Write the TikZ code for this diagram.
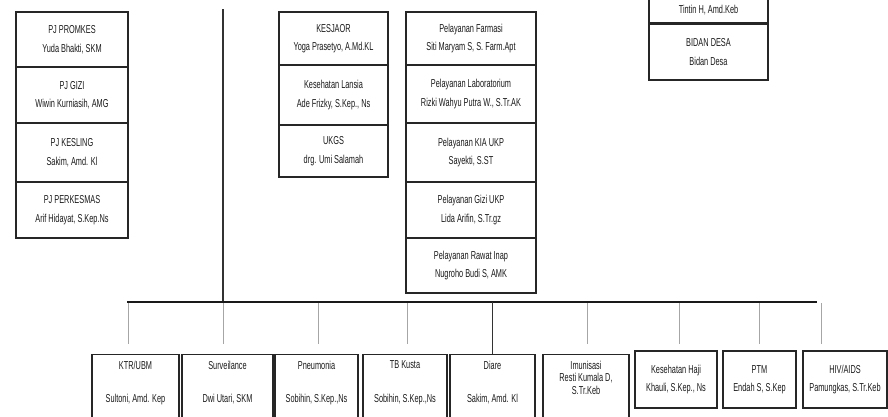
\documentclass[tikz,border=0pt]{standalone}
\usepackage{fontspec}
\setmainfont{Liberation Sans}[FakeStretch=0.64]

\begin{document}
\begin{tikzpicture}[x=1pt, y=-1pt,
    box/.style={draw=black!85, line width=1.1pt, inner sep=0pt, align=center, text=black!90,
                font=\fontsize{11.5}{18.5}\selectfont},
    lowbox/.style={box, anchor=north, inner ysep=6.5pt},
    trunk/.style={line width=1.4pt, black!80},
    bus/.style={line width=1.8pt, black!90},
    stub/.style={line width=0.9pt, black!35}]
  \useasboundingbox (0,0) rectangle (888,416);
  \clip (0,0) rectangle (888,416);
  % ---------------- left column: PJ ----------------
  \node[box, minimum width=112, minimum height=55] (promkes)   at (72,39.5) {PJ PROMKES\\Yuda Bhakti, SKM};
  \node[box, minimum width=112, minimum height=56] (gizi)      at (72,95)   {PJ GIZI\\Wiwin Kurniasih, AMG};
  \node[box, minimum width=112, minimum height=59] (kesling)   at (72,152.5) {PJ KESLING\\Sakim, Amd. Kl};
  \node[box, minimum width=112, minimum height=56] (perkesmas) at (72,210)  {PJ PERKESMAS\\Arif Hidayat, S.Kep.Ns};
  % ---------------- middle column 1 ----------------
  \node[box, minimum width=109, minimum height=53] (kesjaor) at (333.5,38.5) {KESJAOR\\Yoga Prasetyo, A.Md.KL};
  \node[box, minimum width=109, minimum height=60] (lansia)  at (333.5,95)   {Kesehatan Lansia\\Ade Frizky, S.Kep., Ns};
  \node[box, minimum width=109, minimum height=52] (ukgs)    at (333.5,151)  {UKGS\\drg. Umi Salamah};
  % ---------------- middle column 2: pelayanan ----------------
  \node[box, minimum width=130, minimum height=53] (farmasi) at (471,38.5)  {Pelayanan Farmasi\\Siti Maryam S, S. Farm.Apt};
  \node[box, minimum width=130, minimum height=58] (lab)     at (471,94)    {Pelayanan Laboratorium\\Rizki Wahyu Putra W., S.Tr.AK};
  \node[box, minimum width=130, minimum height=59] (kiaukp)  at (471,152.5) {Pelayanan KIA UKP\\Sayekti, S.ST};
  \node[box, minimum width=130, minimum height=56] (giziukp) at (471,210)   {Pelayanan Gizi UKP\\Lida Arifin, S.Tr.gz};
  \node[box, minimum width=130, minimum height=55] (ranap)   at (471,265.5) {Pelayanan Rawat Inap\\Nugroho Budi S, AMK};
  % ---------------- right column ----------------
  \node[box, minimum width=119, minimum height=56] (bidan)  at (708.5,52) {BIDAN DESA\\Bidan Desa};
  \node[box, minimum width=119, minimum height=25, anchor=south] (tintin) at (bidan.north) {Tintin H, Amd.Keb};
  % ---------------- bottom row ----------------
  \node[lowbox, minimum width=87] (ktr)   at (135.5,354) {KTR/UBM\\[15pt]Sultoni, Amd. Kep\\[22pt]~};
  \node[lowbox, minimum width=91] (surv)  at (227.5,354) {Surveilance\\[15pt]Dwi Utari, SKM\\[22pt]~};
  \node[lowbox, minimum width=83] (pneu)  at (316.5,354) {Pneumonia\\[15pt]Sobihin, S.Kep.,Ns\\[22pt]~};
  \node[lowbox, minimum width=84] (tbk)   at (405,354)   {TB Kusta\\[15pt]Sobihin, S.Kep.,Ns\\[22pt]~};
  \node[lowbox, minimum width=85] (diare) at (492.5,354) {Diare\\[15pt]Sakim, Amd. Kl\\[22pt]~};
  \node[lowbox, minimum width=86] (imun)  at (586,354)   {Imunisasi\\[-6pt]Resti Kumala D,\\[-6pt]S.Tr.Keb\\[10pt]~};
  \node[box, minimum width=82, minimum height=57] (haji) at (676,379.5)   {Kesehatan Haji\\Khauli, S.Kep., Ns};
  \node[box, minimum width=73, minimum height=57] (ptm)  at (759.5,379.5) {PTM\\Endah S, S.Kep};
  \node[box, minimum width=84, minimum height=57] (hiv)  at (845,379.5)   {HIV/AIDS\\Pamungkas, S.Tr.Keb};
  % ---------------- trunk, bus and stubs ----------------
  \coordinate (top)  at (223,9);
  \coordinate (hub)  at (223,302);
  \coordinate (busL) at (127,302);
  \coordinate (busR) at (817,302);
  \draw[trunk] (top) -- (hub);
  \draw[bus] (busL) -- (busR);
  \foreach \x/\n in {128/ktr,223/surv,318/pneu,407/tbk,587/imun,679/haji,759/ptm,821/hiv} {
    \coordinate (t-\n) at (\x,303);
    \coordinate (b-\n) at (\x,344);
    \draw[stub] (t-\n) -- (b-\n);
  }
  \draw[trunk] (diare.north) -- (diare.north |- busL);
\end{tikzpicture}
\end{document}
